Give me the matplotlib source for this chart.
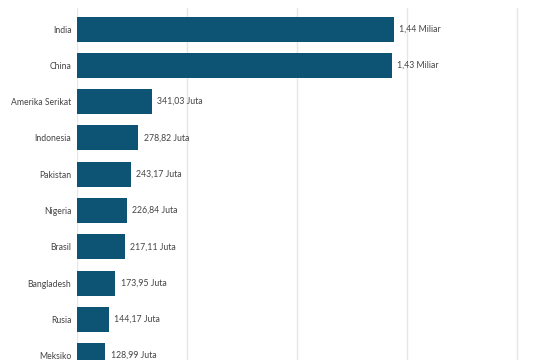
import matplotlib
matplotlib.use("Agg")
import matplotlib.pyplot as plt

countries = ["India", "China", "Amerika Serikat", "Indonesia", "Pakistan",
             "Nigeria", "Brasil", "Bangladesh", "Rusia", "Meksiko"]
population = [1.44e9, 1.43e9, 341.03e6, 278.82e6, 243.17e6,
              226.84e6, 217.11e6, 173.95e6, 144.17e6, 128.99e6]
value_labels = ["1,44 Miliar", "1,43 Miliar", "341,03 Juta", "278,82 Juta",
                "243,17 Juta", "226,84 Juta", "217,11 Juta", "173,95 Juta",
                "144,17 Juta", "128,99 Juta"]

plt.rcParams['font.family'] = ['Lato', 'DejaVu Sans']

W, H = 537, 360
fig = plt.figure(figsize=(W / 100, H / 100), dpi=100)
ax = fig.add_axes([77 / W, 0, 1 - 77 / W, (H - 8) / H])

ypos = list(range(len(countries)))
ax.barh(ypos, population, height=0.69, color="#0d5373", zorder=3)
for y, v, lab in zip(ypos, population, value_labels):
    ax.text(v + 24e6, y, lab, va="center", ha="left", fontsize=6.3,
            color="#444444", zorder=4)

ax.set_ylim(9.12, -0.58)
ax.set_xlim(0, 2.09e9)
ax.set_yticks(ypos)
ax.set_yticklabels(countries, fontsize=6.2, color="#444444")
ax.tick_params(axis="y", length=0, pad=4)
ax.set_xticks([0, 0.5e9, 1.0e9, 1.5e9, 2.0e9])
ax.tick_params(axis="x", length=0, labelbottom=False)
ax.grid(axis="x", color="#e6e6e6", linewidth=1.0, zorder=0)
for s in ax.spines.values():
    s.set_visible(False)

fig.savefig("out.png", dpi=100, facecolor="white")
